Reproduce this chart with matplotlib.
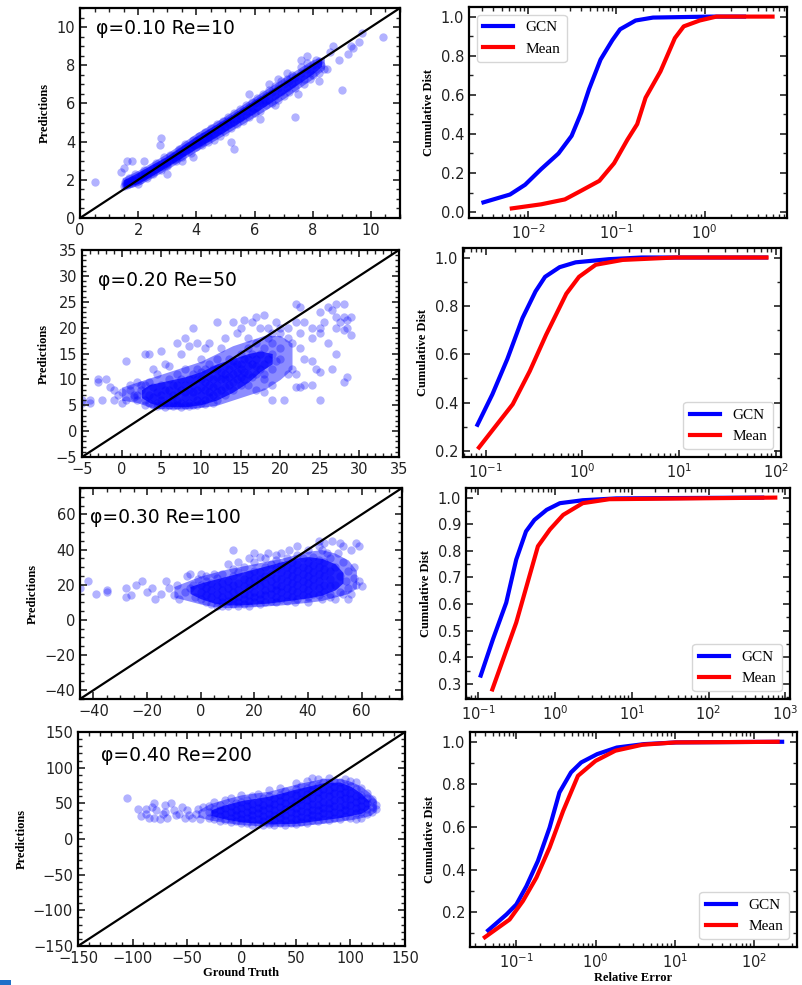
import matplotlib
matplotlib.use('Agg')
import matplotlib.pyplot as plt
from matplotlib.ticker import AutoMinorLocator, MultipleLocator
from matplotlib.patches import Rectangle

# ---- panel 1 : phi=0.10 Re=10 (ground truth, prediction)
pts1 = [
    (1.5,1.7),(1.55,1.8),(1.6,1.75),(1.65,1.9),(1.7,1.8),(1.75,1.95),(1.8,1.85),(1.85,2.0),(1.9,1.95),(2.0,2.1),
    (2.05,2.0),(2.1,2.25),(2.2,2.2),(2.25,2.35),(2.3,2.3),(2.4,2.5),(2.45,2.4),(2.5,2.6),(2.6,2.55),(2.65,2.7),
    (2.7,2.65),(2.8,2.85),(2.85,2.75),(2.9,2.95),(3.0,2.9),(3.05,3.1),(3.1,3.0),(3.2,3.25),(3.25,3.1),(3.3,3.35),
    (3.4,3.3),(3.45,3.5),(3.5,3.4),(3.6,3.65),(3.65,3.5),(3.7,3.75),(3.8,3.7),(3.85,3.9),(3.9,3.8),(4.0,4.05),
    (4.05,3.9),(4.1,4.1),(4.2,4.0),(4.25,4.3),(4.3,4.15),(4.4,4.4),(4.45,4.25),(4.5,4.5),(4.6,4.4),(4.65,4.65),
    (4.7,4.5),(4.8,4.8),(4.85,4.6),(4.9,4.9),(5.0,4.8),(5.05,5.1),(5.1,4.9),(5.2,5.2),(5.3,5.05),(5.4,5.4),
    (5.5,5.25),(5.6,5.6),(5.7,5.4),(5.8,5.8),(5.9,5.6),(6.0,6.0),(6.1,5.8),(6.2,6.2),(6.3,6.0),(6.4,6.4),
    (6.5,6.2),(6.6,6.6),(6.7,6.4),(6.8,6.8),(6.9,6.6),(7.0,7.0),(7.1,6.8),(7.2,7.2),(7.3,7.0),(7.4,7.4),
    (7.5,7.2),(7.6,7.6),(7.7,7.3),(7.8,7.8),(7.9,7.6),(8.0,8.0),(8.1,7.8),(8.2,8.2),(8.3,8.0),
    (1.55,1.9),(1.7,2.1),(1.9,2.3),(2.0,1.8),(2.2,2.5),(2.3,2.1),(2.5,2.3),(2.6,2.9),(2.8,2.5),(2.9,3.2),
    (3.0,2.7),(3.1,3.3),(3.3,3.0),(3.4,3.6),(3.5,3.2),(3.6,3.9),(3.8,3.4),(3.9,4.1),(4.0,3.7),(4.1,4.3),
    (4.2,3.8),(4.3,4.5),(4.4,4.0),(4.5,4.7),(4.6,4.1),(4.7,4.9),(4.8,4.3),(4.9,5.1),(5.0,4.5),(5.1,5.3),
    (5.2,4.7),(5.3,5.5),(5.4,4.9),(5.5,5.7),(5.6,5.1),(5.7,5.9),(5.8,5.3),(5.9,6.1),(6.0,5.5),(6.1,6.3),
    (6.2,5.6),(6.3,6.5),(6.4,5.9),(6.5,6.7),(6.6,6.0),(6.7,6.9),(6.8,6.2),(6.9,7.2),(7.0,6.4),(7.1,7.3),
    (7.2,6.6),(7.3,7.5),(7.4,6.8),(7.6,7.9),(7.7,7.0),(7.8,8.1),(7.9,7.3),(8.1,8.3),(8.2,7.6),
    (3.2,3.1),(3.35,3.2),(3.55,3.45),(3.75,3.6),(3.95,3.85),(4.15,4.0),(4.35,4.2),(4.55,4.35),(4.75,4.6),
    (4.95,4.75),(5.15,5.0),(5.35,5.2),(5.55,5.35),(5.75,5.6),(5.95,5.75),(6.15,6.0),(6.35,6.2),(2.15,2.15),
    (2.35,2.3),(2.55,2.45),(2.75,2.7),(2.95,2.85),(1.6,1.85),(1.8,2.0),
    (0.5,1.9),(1.4,2.4),(1.5,2.6),(1.6,3.0),(1.8,3.0),(2.2,3.0),(2.8,4.2),(2.75,3.8),(3.0,2.3),(2.1,2.2),
    (3.5,3.0),(3.9,3.2),(5.3,3.6),(5.2,4.0),(6.2,5.2),(6.7,5.9),(7.4,5.3),(7.5,6.5),(8.0,7.5),(8.4,7.8),
    (8.5,7.8),(8.2,7.2),(9.0,6.7),(8.9,8.3),(8.7,9.0),(8.6,8.7),(9.2,8.6),(9.4,8.9),(9.6,9.2),(9.7,9.7),
    (10.4,9.5),(7.1,7.6),(6.8,7.3),(6.5,7.0),(5.8,6.5),(7.6,8.3),(7.8,8.5),(9.3,9.0),
]
# where the points pile up: an outer (looser) and an inner (saturated) band
outer1_x = [1.45, 2.0, 3.0, 4.0, 5.0, 6.0, 7.0, 8.0, 8.4]
outer1_lo = [1.5, 1.7, 2.55, 3.5, 4.4, 5.3, 6.25, 7.3, 7.8]
outer1_hi = [2.1, 2.5, 3.4, 4.45, 5.35, 6.35, 7.35, 8.3, 8.45]
band1_x = [1.5, 2.0, 3.0, 4.0, 5.0, 6.0, 7.0, 8.0, 8.3]
band1_lo = [1.6, 1.8, 2.7, 3.65, 4.55, 5.5, 6.5, 7.55, 7.95]
band1_hi = [2.0, 2.4, 3.25, 4.3, 5.2, 6.2, 7.15, 8.15, 8.3]

# ---- panel 2 : phi=0.20 Re=50
pts2 = [
    (2,7),(2.5,8),(3,6),(3,9),(3.5,7),(3.5,5.5),(4,5),(4,6.5),(4,8.5),(4.5,5.5),(4.5,7.5),(5,5),(5,6),(5,7),
    (5,9),(5.5,5.5),(5.5,8),(6,5),(6,6.5),(6,8),(6,10),(6.5,5.5),(6.5,7),(6.5,9),(7,5),(7,6),(7,7.5),(7,9),
    (7,11),(7.5,5.5),(7.5,8),(7.5,10),(8,5),(8,6.5),(8,7.5),(8,9),(8,12),(8.5,5.5),(8.5,8),(8.5,10),(9,5),
    (9,6.5),(9,7.5),(9,9),(9,11),(9.5,6),(9.5,8),(9.5,10),(9.5,12),(10,5.5),(10,7),(10,8.5),(10,10),(10,11.5),
    (10.5,6),(10.5,8),(10.5,9.5),(10.5,12),(11,6.5),(11,7.5),(11,9),(11,10.5),(11,13),(11.5,7),(11.5,8.5),
    (11.5,10),(11.5,12),(12,6),(12,7.5),(12,9),(12,10.5),(12,12),(12,14),(12.5,8),(12.5,10),(12.5,11.5),
    (13,7),(13,8.5),(13,10),(13,11),(13,12.5),(13.5,9),(13.5,10.5),(13.5,12),(13.5,14),(14,8),(14,9.5),
    (14,11),(14,12.5),(14,13.5),(14.5,10),(14.5,11.5),(14.5,13),(15,9),(15,10.5),(15,12),(15,13),(15,15),
    (15.5,10),(15.5,11.5),(15.5,14),(16,9),(16,11),(16,12.5),(16,14),(16,16),(16.5,10.5),(16.5,13),(16.5,15),
    (17,11),(17,12.5),(17,14),(17,17),(17.5,12),(17.5,15),(18,10),(18,13),(18,16),(18.5,14),(18.5,18),(19,12),
    (19,15),(19,17),(19.5,13.5),(20,14),(20,16),(20,19),
    (4.5,4.8),(5.5,4.7),(6.5,4.8),(7.5,4.7),(8.5,4.8),(9.5,5),(10.5,5.2),(11.5,5.5),(3,5),(2,6),(1.5,6.5),
    (1,8),(3.5,9.5),(2.5,9),
    (3,15),(5,15.5),(5.5,13),(6,12.5),(7,17),(7.5,15),(8,18),(8.5,16.5),(9,20),(9.5,17),(10,14),(10.5,16),
    (11,17),(12,21),(12.5,16),(13,18),(14,21),(14.5,19),(15,20),(15.5,21.5),(16,18),(16.5,21),(17,22),
    (17.5,20),(18,22.5),(18.5,20),(19,19),(19.5,21),(20,20),(21,20),(21,18),(21.5,17),(22,24.5),(22.5,24),
    (22,21),(22.5,19),(23,21),(22.5,16),(23,14),(21,11),(21.5,12),(22,11),(22,8.5),(22.5,8.5),(23,9),
    (20.5,6),(19,6),(18,7.5),(17,8),(19,9),(18,11),
    (24,20),(24,18),(25,23),(25,20),(25.5,21),(25,19),(26,24),(26.5,23.5),(27,24.5),(27,22),(27.5,21),
    (28,22),(28.5,21.5),(29,22),(28,24.5),(27,20),(28,19.5),(29,18.5),(28.5,20),(26,17),(27,15),(24,13.5),
    (24.5,12),(25,11.5),(26.5,12),(28,9.5),(28.5,10.5),(24,9),(25,6),
    (-5,6),(-4,6),(-3,10),(-3,9.5),(-2,10),(-1.5,8.5),(-1,8),(-1,6),(-0.5,7),(0,5.5),(0,7.5),(0.5,13.5),
    (0.5,6),(1,9),(1.5,7),(2,9.5),(-5,5.5),(-4,5.5),(-2.5,6),(3.5,15),(4.5,11),(4,12),
]
outer2_x = [0, 2, 4, 6, 8, 10, 12, 14, 16, 18, 20, 21.5]
outer2_lo = [6, 5.5, 4.4, 4.3, 4.3, 4.6, 5.0, 6.0, 7.0, 8.0, 10, 12]
outer2_hi = [8.5, 9.5, 10.5, 11.5, 12.5, 13.5, 15, 16.5, 17.5, 18.5, 18.5, 17]
band2_x = [2.5, 3.5, 5, 8, 10, 12, 14, 16, 17.5, 19]
band2_lo = [6.5, 5.5, 4.8, 4.7, 5.1, 6.0, 7.5, 9.5, 11.5, 13.0]
band2_hi = [8.0, 9.0, 9.5, 10.5, 11.5, 13.0, 14.0, 15.0, 15.5, 15.0]

# ---- panel 3 : phi=0.30 Re=100, core stored per ground-truth column
core3_x = [0, 2, 4, 6, 8, 10, 12, 14, 16, 18, 20, 22, 24, 26, 28, 30, 32, 34, 36, 38, 40, 42, 44, 46, 48]
core3_y = [
    [12, 16, 20], [10, 14, 18, 22], [9, 13, 17, 21], [8, 11, 15, 19, 24], [8, 10, 13, 17, 21, 26],
    [8, 11, 14, 18, 22], [9, 12, 16, 20, 25, 29], [8, 10, 13, 17, 21, 27], [9, 12, 15, 19, 23, 30],
    [8, 11, 14, 18, 22, 26], [10, 13, 16, 20, 24, 28, 33], [9, 12, 15, 19, 23, 27], [10, 14, 17, 21, 25, 30],
    [11, 15, 18, 22, 26, 32], [10, 13, 17, 20, 24, 29, 34], [12, 16, 19, 23, 27, 31],
    [11, 14, 18, 22, 26, 30, 35], [13, 17, 21, 25, 29, 33], [12, 16, 20, 24, 28, 32, 37],
    [14, 18, 22, 26, 30, 35], [13, 17, 21, 25, 29, 33, 40], [15, 19, 23, 27, 31, 36],
    [14, 18, 22, 26, 30, 34, 42], [16, 20, 25, 29, 33], [15, 19, 23, 28, 35],
]
pts3 = [
    (-45,18),(-42,22),(-39,15),(-35,17),(-35,16),(-28,18),(-28,13),(-26,14),(-24,20),(-22,22),(-20,16),
    (-18,18),(-17,12),(-15,15),(-13,22),(-12,18),(-10,14),(-9,20),(-8,12),(-6,16),(-5,25),(-4,18),(-3,20),
    (-2,13),(-1,23),
    (50,20),(50,30),(51,38),(52,25),(52,16),(53,33),(53,42),(54,22),(55,28),(55,18),(56,40),(56,15),(57,30),
    (57,24),(58,44),(58,20),(59,42),(59,22),(60,19),(49,45),(46,44),(44,45),(47,38),(45,40),(52,44),
    (12,40),(10,32),(14,33),(18,35),(20,38),(22,36),(25,38),(30,38),(33,40),(36,42),(24,35),(5,26),(2,25),
    (0,26),(-4,26),(28,37),(45,12),(40,10),(35,10),(48,13),(50,12),(55,12),(53,15),
]
outer3_x = [-10, -5, 0, 5, 10, 20, 30, 40, 45, 50, 55, 58]
outer3_lo = [13, 11, 9, 7.5, 7, 7.5, 8.5, 10, 11, 13, 15, 18]
outer3_hi = [19, 22, 25, 27, 29, 32, 35, 39, 40, 38, 34, 28]
band3_x = [-4, 0, 5, 10, 15, 20, 25, 30, 35, 40, 45, 50, 53]
band3_lo = [15, 12, 9.5, 8.5, 8.5, 9, 9.5, 10.5, 11.5, 12.5, 14, 17, 21]
band3_hi = [19, 21, 23, 25, 27, 29, 31, 33, 35, 36, 35, 32, 27]

# ---- panel 4 : phi=0.40 Re=200
core4_x = [-30, -25, -20, -15, -10, -5, 0, 5, 10, 15, 20, 25, 30, 35, 40, 45, 50, 55, 60, 65, 70, 75,
           80, 85, 90, 95, 100, 105, 110, 115, 120, 123]
core4_y = [
    [30, 38, 46], [28, 35, 42, 52], [25, 32, 40, 48], [27, 35, 44, 55], [24, 30, 38, 46, 58],
    [25, 33, 41, 50], [22, 28, 35, 43, 52, 62], [22, 30, 38, 46, 55], [20, 26, 33, 41, 49, 60],
    [21, 28, 36, 44, 52, 63], [20, 25, 32, 40, 48, 57], [21, 28, 35, 43, 51, 60, 68], [20, 26, 33, 41, 49, 58],
    [22, 29, 37, 45, 53, 62, 72], [20, 27, 34, 42, 50, 59, 67], [23, 30, 38, 46, 55, 64],
    [21, 28, 36, 44, 52, 61, 70, 78], [24, 31, 39, 47, 56, 65, 74], [22, 30, 38, 46, 54, 63, 72, 82],
    [26, 33, 41, 49, 58, 67, 76, 85], [25, 32, 40, 48, 57, 66, 75, 84], [28, 36, 44, 52, 61, 70, 80],
    [27, 35, 43, 51, 60, 69, 78, 86], [30, 38, 46, 55, 64, 73, 82], [28, 36, 45, 54, 63, 72, 80],
    [32, 40, 48, 57, 66, 75, 84], [30, 38, 47, 56, 65, 74, 82], [28, 36, 44, 52, 60, 70, 80],
    [30, 38, 46, 55, 62, 72], [35, 42, 50, 58, 65], [38, 45, 52, 56], [42, 48],
]
pts4 = [
    (-105,58),(-95,42),(-92,32),(-88,35),(-85,30),(-82,45),(-80,50),(-78,40),(-75,28),(-72,35),(-70,48),
    (-68,30),(-65,50),(-62,40),(-60,33),(-57,35),(-55,45),(-52,30),(-48,33),(-45,30),(-42,35),(-40,42),
    (-38,28),(-35,45),(-80,30),(-88,42),(-70,38),(-50,40),
]
outer4_x = [-40, -30, -15, 0, 25, 50, 75, 90, 100, 110, 118, 124]
outer4_lo = [31, 27, 23, 20, 18, 18, 22, 25, 27, 30, 33, 40]
outer4_hi = [40, 49, 56, 62, 67, 77, 85, 85, 81, 74, 64, 54]
band4_x = [-28, -15, 0, 25, 50, 75, 90, 100, 110, 117]
band4_lo = [33, 28, 24, 21, 22, 27, 30, 33, 36, 43]
band4_hi = [41, 48, 54, 60, 70, 79, 80, 74, 64, 53]

# ---- cumulative distributions of relative error
cdf_gcn_x = [
    [0.0031, 0.0062, 0.0092, 0.014, 0.022, 0.031, 0.040, 0.049, 0.066, 0.090, 0.11, 0.165, 0.26, 1.19, 2.8],
    [0.082, 0.117, 0.167, 0.24, 0.327, 0.41, 0.58, 0.85, 1.87, 4.1, 79],
    [0.108, 0.156, 0.232, 0.313, 0.42, 0.54, 0.78, 1.16, 2.3, 6.3, 500],
    [0.044, 0.075, 0.10, 0.134, 0.187, 0.263, 0.35, 0.49, 0.66, 1.05, 1.86, 4.1, 10.6, 228],
]
cdf_gcn_y = [
    [0.05, 0.09, 0.14, 0.22, 0.30, 0.39, 0.51, 0.63, 0.78, 0.88, 0.935, 0.98, 0.995, 1.0, 1.0],
    [0.308, 0.434, 0.58, 0.75, 0.86, 0.92, 0.96, 0.98, 0.993, 1.0, 1.0],
    [0.331, 0.468, 0.605, 0.767, 0.873, 0.916, 0.954, 0.979, 0.99, 0.997, 1.0],
    [0.114, 0.189, 0.236, 0.322, 0.44, 0.597, 0.762, 0.856, 0.903, 0.942, 0.973, 0.989, 0.997, 1.0],
]
cdf_mean_x = [
    [0.0065, 0.014, 0.026, 0.040, 0.064, 0.094, 0.133, 0.172, 0.214, 0.316, 0.46, 0.58, 0.88, 1.36, 5.9],
    [0.085, 0.19, 0.285, 0.42, 0.68, 0.92, 1.37, 2.6, 9.1, 80],
    [0.153, 0.313, 0.6, 0.86, 1.28, 2.3, 5.1, 740],
    [0.040, 0.082, 0.121, 0.179, 0.263, 0.39, 0.6, 1.0, 1.78, 3.9, 10.2, 200],
]
cdf_mean_y = [
    [0.019, 0.04, 0.065, 0.11, 0.16, 0.25, 0.37, 0.45, 0.585, 0.72, 0.89, 0.95, 0.98, 1.0, 1.0],
    [0.214, 0.393, 0.53, 0.68, 0.85, 0.92, 0.97, 0.99, 1.0, 1.0],
    [0.279, 0.53, 0.817, 0.88, 0.935, 0.979, 0.994, 1.0],
    [0.082, 0.165, 0.252, 0.362, 0.503, 0.675, 0.84, 0.91, 0.958, 0.986, 0.997, 1.0],
]

labels = ['\u03c6=0.10 Re=10', '\u03c6=0.20 Re=50', '\u03c6=0.30 Re=100', '\u03c6=0.40 Re=200']
limits = [(0, 11), (-5, 35), (-45, 75), (-150, 150)]
major_step = [2, 5, 20, 50]
cdf_step = [0.2, 0.2, 0.1, 0.2]
legend_loc = ['upper left', 'lower right', 'lower right', 'lower right']


def expand(cols_x, cols_y):
    out = []
    for x, ys in zip(cols_x, cols_y):
        for y in ys:
            out.append((x, y))
    return out


scatter_sets = [pts1, pts2, expand(core3_x, core3_y) + pts3, expand(core4_x, core4_y) + pts4]
outers = [(outer1_x, outer1_lo, outer1_hi), (outer2_x, outer2_lo, outer2_hi),
          (outer3_x, outer3_lo, outer3_hi), (outer4_x, outer4_lo, outer4_hi)]
bands = [(band1_x, band1_lo, band1_hi), (band2_x, band2_lo, band2_hi),
         (band3_x, band3_lo, band3_hi), (band4_x, band4_lo, band4_hi)]

W, H = 802, 985
# pixel boxes (left, top, right, bottom)
left_boxes = [(80, 8, 400, 218), (82, 250, 399, 457), (80, 488, 402, 699), (78, 732, 405, 946)]
right_boxes = [(469, 7, 787, 218), (463, 248, 781, 457), (466, 488, 790, 699), (470, 732, 797, 947)]
text_pos = [(0.05, 0.9), (0.05, 0.855), (0.03, 0.86), (0.07, 0.89)]

serif = ['Liberation Serif', 'DejaVu Serif']


def box(b):
    l, t, r, bt = b
    return [l / W, 1 - bt / H, (r - l) / W, (bt - t) / H]


def style(ax):
    ax.tick_params(which='both', direction='in', top=True, right=True, labelsize=10.5, colors='#222222')
    ax.tick_params(which='major', length=5, width=1.2)
    ax.tick_params(which='minor', length=3, width=1.0)
    for s in ax.spines.values():
        s.set_linewidth(1.6)


fig = plt.figure(figsize=(W / 100, H / 100), dpi=100)

for i in range(4):
    ax = fig.add_axes(box(left_boxes[i]))
    ox, olo, ohi = outers[i]
    ax.fill_between(ox, olo, ohi, color='blue', lw=0, alpha=0.45)
    bx, blo, bhi = bands[i]
    ax.fill_between(bx, blo, bhi, color='blue', lw=0, alpha=0.75)
    xs = [p[0] for p in scatter_sets[i]]
    ys = [p[1] for p in scatter_sets[i]]
    ax.scatter(xs, ys, s=36, color='blue', alpha=0.3, linewidths=0)
    lo, hi = limits[i]
    ax.plot([lo, hi], [lo, hi], color='black', lw=1.6)
    ax.set_xlim(lo, hi)
    ax.set_ylim(lo, hi)
    ax.xaxis.set_major_locator(MultipleLocator(major_step[i]))
    ax.yaxis.set_major_locator(MultipleLocator(major_step[i]))
    ax.xaxis.set_minor_locator(AutoMinorLocator())
    ax.yaxis.set_minor_locator(AutoMinorLocator())
    style(ax)
    ax.set_ylabel('Predictions', family=serif, weight='bold', fontsize=9)
    ax.text(text_pos[i][0], text_pos[i][1], labels[i], transform=ax.transAxes,
            fontsize=13.5, va='center', ha='left')
    if i == 3:
        ax.set_xlabel('Ground Truth', family=serif, weight='bold', fontsize=9, labelpad=1)

    ax2 = fig.add_axes(box(right_boxes[i]))
    ax2.plot(cdf_gcn_x[i], cdf_gcn_y[i], color='blue', lw=3, label='GCN')
    ax2.plot(cdf_mean_x[i], cdf_mean_y[i], color='red', lw=3, label='Mean')
    ax2.set_xscale('log')
    ax2.yaxis.set_major_locator(MultipleLocator(cdf_step[i]))
    ax2.yaxis.set_minor_locator(AutoMinorLocator(2))
    style(ax2)
    ax2.set_ylabel('Cumulative Dist', family=serif, weight='bold', fontsize=9)
    ax2.legend(loc=legend_loc[i], prop={'family': serif, 'size': 11})
    if i == 3:
        ax2.set_xlabel('Relative Error', family=serif, weight='bold', fontsize=9, labelpad=1)

fig.patches.append(Rectangle((0, 0), 11 / W, 5 / H, transform=fig.transFigure,
                             facecolor='#1f6fc8', edgecolor='none'))

fig.savefig('out.png', dpi=100)
